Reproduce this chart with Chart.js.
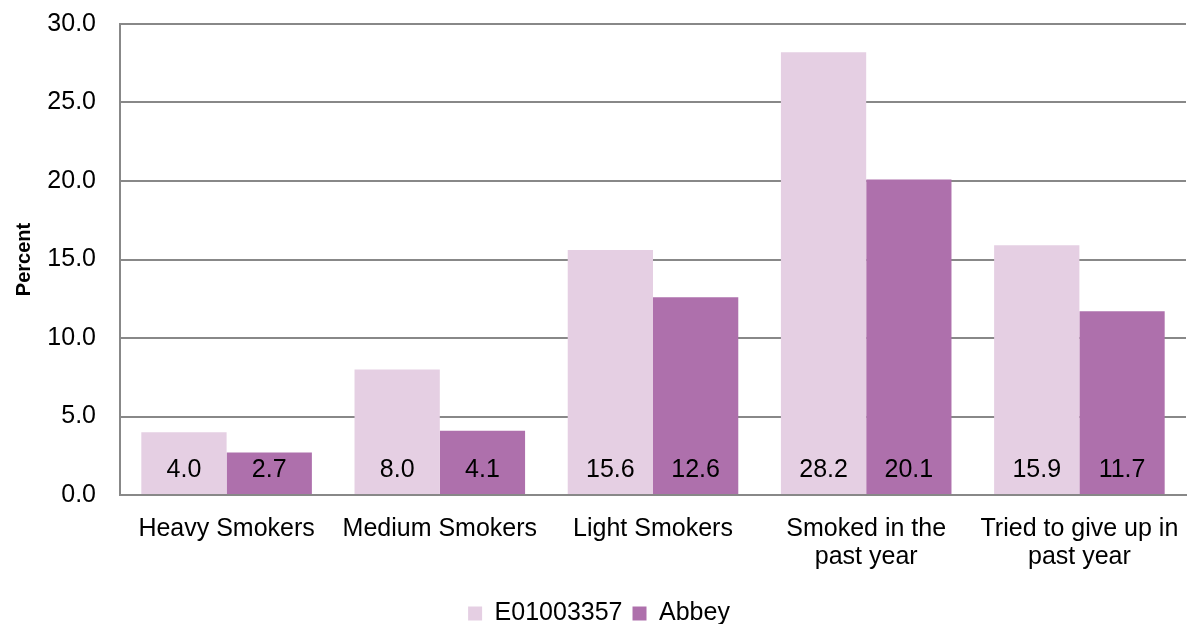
<!DOCTYPE html>
<html>
<head>
<meta charset="utf-8">
<style>
  html, body { margin: 0; padding: 0; background: #fff; }
  #wrap { width: 1189px; height: 624px; }
</style>
<script src="https://cdn.jsdelivr.net/npm/chart.js@4/dist/chart.umd.min.js"></script>
</head>
<body>
<div id="wrap"><canvas id="c" width="1189" height="624"></canvas></div>
<script>
const categories = [
  'Heavy Smokers',
  'Medium Smokers',
  'Light Smokers',
  ['Smoked in the', 'past year'],
  ['Tried to give up in', 'past year']
];
const areaValues = [4.0, 8.0, 15.6, 28.2, 15.9];
const abbeyValues = [2.7, 4.1, 12.6, 20.1, 11.7];
const seriesNames = ['E01003357', 'Abbey'];
const yTicks = [0, 5, 10, 15, 20, 25, 30];

const FONT = "'Liberation Sans', Arial, sans-serif";

// Writes each bar's value near the bottom of the bar
const bottomLabels = {
  id: 'bottomLabels',
  afterDatasetsDraw(chart) {
    const ctx = chart.ctx;
    const yScale = chart.scales.y;
    const base = yScale.getPixelForValue(0);
    ctx.save();
    ctx.font = '25px ' + FONT;
    ctx.fillStyle = '#000';
    ctx.textAlign = 'center';
    ctx.textBaseline = 'middle';
    chart.data.datasets.forEach((ds, i) => {
      chart.getDatasetMeta(i).data.forEach((bar, j) => {
        ctx.fillText(ds.data[j].toFixed(1), bar.x, base - 25);
      });
    });
    ctx.restore();
  }
};

new Chart(document.getElementById('c'), {
  type: 'bar',
  data: {
    labels: categories,
    datasets: [
      { label: seriesNames[0], data: areaValues, backgroundColor: '#E5CFE3',
        categoryPercentage: 0.8, barPercentage: 1.0 },
      { label: seriesNames[1], data: abbeyValues, backgroundColor: '#AE70AC',
        categoryPercentage: 0.8, barPercentage: 1.0 }
    ]
  },
  options: {
    responsive: false,
    animation: false,
    devicePixelRatio: 1,
    layout: { padding: { top: 24, right: 3, left: 12, bottom: 0 } },
    plugins: {
      tooltip: { enabled: false },
      legend: {
        position: 'bottom',
        maxHeight: 33,
        labels: {
          font: { family: FONT, size: 25, lineHeight: 0.8 },
          color: '#000',
          boxWidth: 14,
          boxHeight: 14,
          padding: 10
        }
      }
    },
    scales: {
      x: {
        afterFit(scale) { scale.paddingLeft = 0; scale.paddingRight = 0; },
        grid: { display: false, drawTicks: false },
        border: { color: '#888', width: 2 },
        ticks: {
          font: { family: FONT, size: 25, lineHeight: 1.12 },
          color: '#000',
          padding: 20,
          maxRotation: 0,
          autoSkip: false
        }
      },
      y: {
        min: 0,
        max: 30,
        afterBuildTicks(scale) {
          scale.ticks = yTicks.map(v => ({ value: v }));
        },
        afterFit(scale) {
          scale.width = 108;
          scale.paddingTop = 0;
          scale.paddingBottom = 0;
        },
        grid: { color: '#888', lineWidth: 2, drawTicks: false },
        border: { color: '#888', width: 2 },
        title: {
          display: true,
          text: 'Percent',
          font: { family: FONT, size: 20, weight: 'bold' },
          color: '#000',
          padding: 0
        },
        ticks: {
          font: { family: FONT, size: 25 },
          color: '#000',
          padding: 24,
          callback: v => Number(v).toFixed(1)
        }
      }
    }
  },
  plugins: [bottomLabels]
});
</script>
</body>
</html>
